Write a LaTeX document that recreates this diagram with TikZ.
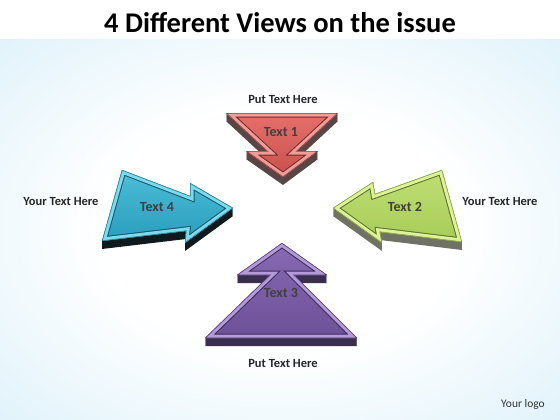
\documentclass[tikz,border=0pt]{standalone}
\usepackage{fontspec}
\setmainfont{Carlito}

\definecolor{bgblue}{RGB}{205,235,248}
\definecolor{redtop}{RGB}{230,112,108}
\definecolor{redbot}{RGB}{200,80,76}
\definecolor{redrim}{RGB}{240,156,152}
\definecolor{redside}{RGB}{88,70,70}
\definecolor{greentop}{RGB}{192,222,116}
\definecolor{greenbot}{RGB}{166,204,88}
\definecolor{greenrim}{RGB}{222,242,150}
\definecolor{greenside}{RGB}{112,114,100}
\definecolor{purpletop}{RGB}{136,106,180}
\definecolor{purplebot}{RGB}{108,80,152}
\definecolor{purplerim}{RGB}{180,154,218}
\definecolor{purpleside}{RGB}{58,46,78}
\definecolor{cyantop}{RGB}{76,190,216}
\definecolor{cyanbot}{RGB}{40,156,188}
\definecolor{cyanrim}{RGB}{124,218,238}
\definecolor{cyanside}{RGB}{14,26,30}

\pgfdeclareradialshading{bgshade}{\pgfpoint{0bp}{0bp}}{%
  color(0bp)=(white); color(16bp)=(white); color(48bp)=(bgblue); color(80bp)=(bgblue)}

% arrow: path, side, face top, face bottom, rim
\newcommand{\viewarrow}[5]{%
  \foreach \d in {8,7,...,1}
    \fill[#2, shift={(0,\d)}] #1;
  \begin{scope}
    \clip #1;
    \shade[top color=#3, bottom color=#4] #1;
    \draw[#4!55!black, line width=9pt] #1;
    \draw[#5, line width=7pt] #1;
    \draw[#4!75!black, line width=1pt] #1;
  \end{scope}
}

\begin{document}
\begin{tikzpicture}[x=1pt,y=-1pt,
  label/.style={font=\bfseries\fontsize{12.5}{14}\selectfont, text=black!85},
  arrowtext/.style={font=\bfseries\fontsize{14}{16}\selectfont, text=black!75}]
\useasboundingbox (0,0) rectangle (560,420);

% Background
\fill[white] (0,0) rectangle (560,40);
\shade[shading=bgshade] (0,40) rectangle (560,420);

% Title
\node[font=\bfseries\fontsize{28.5}{32}\selectfont] (title) at (280,23) {4 Different Views on the issue};

% Arrows
\viewarrow{(226,113) -- (338,113) -- (297,151) -- (318,151) -- (283,177) -- (246,151) -- (267,151) -- cycle}{redside}{redtop}{redbot}{redrim}
\viewarrow{(442,170) -- (375,194) -- (373,182) -- (333,208) -- (382,243) -- (380,232) -- (462,242) -- cycle}{greenside}{greentop}{greenbot}{greenrim}
\viewarrow{(205,338) -- (270,275) -- (237,275) -- (282,243) -- (327,275) -- (294,275) -- (357,338) -- cycle}{purpleside}{purpletop}{purplebot}{purplerim}
\viewarrow{(122,170) -- (190,196) -- (190,183) -- (233,208) -- (185,243) -- (186,231) -- (102,241) -- cycle}{cyanside}{cyantop}{cyanbot}{cyanrim}

% Arrow texts
\node[arrowtext] (t1) at (281,132) {Text 1};
\node[arrowtext] (t2) at (405,207) {Text 2};
\node[arrowtext] (t3) at (281,293) {Text 3};
\node[arrowtext] (t4) at (157,207) {Text 4};

% Labels
\node[label] (put1) at (283,99) {Put Text Here};
\node[label] (put3) at (283,363) {Put Text Here};
\node[label] (your4) at (61,201) {Your Text Here};
\node[label] (your2) at (500,201) {Your Text Here};
\node[font=\fontsize{11.5}{13}\selectfont, text=black!80] (logo) at (523,404) {Your logo};

\end{tikzpicture}
\end{document}
